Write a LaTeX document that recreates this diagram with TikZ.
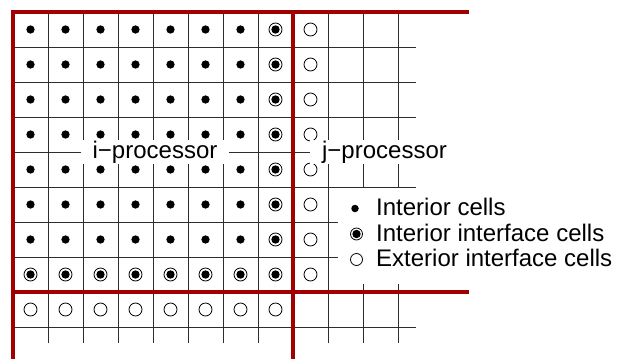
\documentclass[tikz,border=0pt]{standalone}
\usepackage{fontspec}
\setmainfont{Liberation Sans}
\definecolor{framered}{RGB}{160,0,0}
\definecolor{gridc}{RGB}{45,45,45}
\begin{document}
\begin{tikzpicture}[x=1pt,y=-1pt,
  gridline/.style={gridc, line width=0.9pt},
  redline/.style={framered, line width=4pt},
  dotcell/.style={circle, fill=black, inner sep=0pt, minimum size=8.3pt},
  ringcell/.style={circle, draw=black, line width=0.8pt, inner sep=0pt, minimum size=13pt,
    path picture={\fill[black] (path picture bounding box.center) circle (4.2pt);}},
  opencell/.style={circle, draw=black, line width=0.8pt, inner sep=0pt, minimum size=13pt},
  lbl/.style={fill=white, inner xsep=12pt, inner ysep=1pt, font=\fontsize{24}{28}\selectfont, anchor=base},
  legtext/.style={inner sep=0pt, anchor=base west, font=\fontsize{24}{28}\selectfont}]
\useasboundingbox (0,0) rectangle (623,359);
% thin grid
\foreach \k in {1,...,9} \draw[gridline] (13,12+35*\k) -- (416,12+35*\k);
\foreach \k in {1,...,11} \draw[gridline] (13+35*\k,12) -- (13+35*\k,343);
% cells
\foreach \c in {0,...,6} \foreach \r in {0,...,6}
  \node[dotcell] (d-\c-\r) at (30.5+35*\c, 29.5+35*\r) {};
\foreach \r in {0,...,7} \node[ringcell] (rc-\r) at (275.5, 29.5+35*\r) {};
\foreach \c in {0,...,6} \node[ringcell] (rr-\c) at (30.5+35*\c, 274.5) {};
\foreach \r in {0,...,7} \node[opencell] (oc-\r) at (310.5, 29.5+35*\r) {};
\foreach \c in {0,...,7} \node[opencell] (or-\c) at (30.5+35*\c, 309.5) {};
% labels
\node[lbl] (ilabel) at (155,158) {i−processor};
\node[lbl] (jlabel) at (384.5,158) {j−processor};
% legend
\node[fill=white, inner sep=0pt, minimum width=285pt, minimum height=96pt, anchor=north west] (legend) at (338,188) {};
\node[dotcell, minimum size=7.5pt] (k1) at (355,208.5) {};
\node[ringcell, minimum size=12pt] (k2) at (356.5,234) {};
\node[opencell, minimum size=12pt] (k3) at (356.5,259.5) {};
\node[legtext] (t1) at (376,215) {Interior cells};
\node[legtext] (t2) at (376,241) {Interior interface cells};
\node[legtext] (t3) at (376,266) {Exterior interface cells};
% red processor boundaries
\draw[redline] (13,359) -- (13,12) -- (469,12);
\draw[redline] (293,12) -- (293,359);
\draw[redline] (13,292) -- (469,292);
\end{tikzpicture}
\end{document}
